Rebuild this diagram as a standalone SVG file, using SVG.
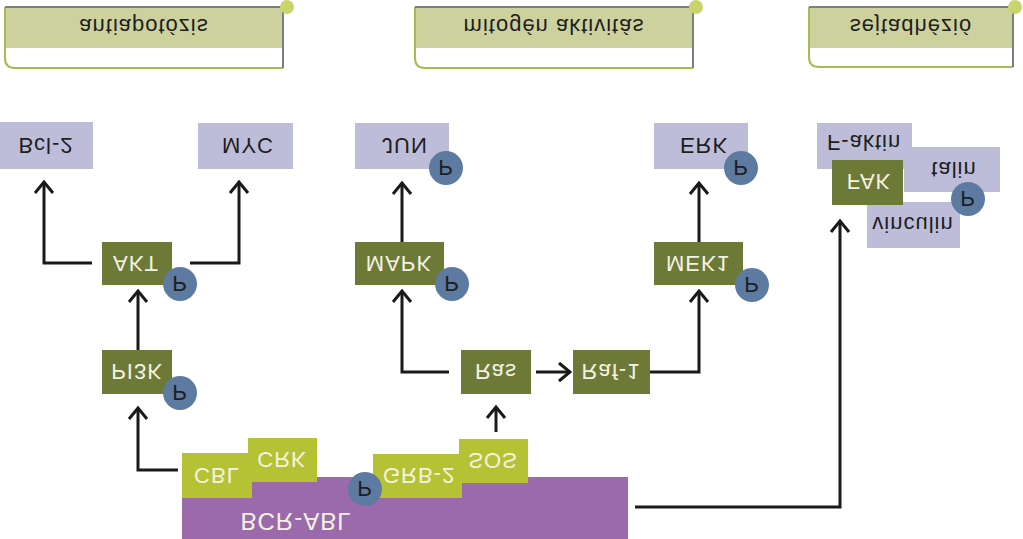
<svg xmlns="http://www.w3.org/2000/svg" width="1023" height="539" viewBox="0 0 1023 539">
<style>
text{font-family:"Liberation Sans",Arial,sans-serif;font-size:22px;letter-spacing:1px;text-anchor:middle}
.lt{fill:#bdbdd9}
.dk{fill:#6d7a37}
.yg{fill:#b4c233}
.pc{fill:#5d7ba0}
.tw{fill:#f4f2e2}
.tb{fill:#1e1e1e}
.hdfill{fill:#cdd19e}
.conn{fill:none;stroke:#1a1a1a;stroke-width:3}
</style>
<defs>
<marker id="arr" viewBox="-14 -12 16 24" markerWidth="16" markerHeight="24" refX="0" refY="0" orient="auto" markerUnits="userSpaceOnUse">
<path d="M-11,-9 L0,0 L-11,9" fill="none" stroke="#1a1a1a" stroke-width="3"/>
</marker>
</defs>
<rect width="1023" height="539" fill="#fff"/>

<g id="header1">
<rect x="5" y="7" width="278" height="41" class="hdfill"/>
<path d="M5,7 V58 Q5,68 15,68 H283" fill="none" stroke="#a7bb50" stroke-width="2"/>
<path d="M5,7 H283 V68" fill="none" stroke="#7d7d85" stroke-width="2"/>
<circle cx="287" cy="7" r="7" fill="#c9d46b"/>
<g transform="translate(144,27) scale(1,-1)"><text y="8" class="tb">antiapotózis</text></g>
</g>
<g id="header2">
<rect x="415" y="7" width="278" height="41" class="hdfill"/>
<path d="M415,7 V58 Q415,68 425,68 H693" fill="none" stroke="#a7bb50" stroke-width="2"/>
<path d="M415,7 H693 V68" fill="none" stroke="#7d7d85" stroke-width="2"/>
<circle cx="696" cy="7" r="7" fill="#c9d46b"/>
<g transform="translate(554,27) scale(1,-1)"><text y="8" class="tb">mitogén aktivitás</text></g>
</g>
<g id="header3">
<rect x="809" y="7" width="204" height="41" class="hdfill"/>
<path d="M809,7 V57 Q809,67 819,67 H1013" fill="none" stroke="#a7bb50" stroke-width="2"/>
<path d="M809,7 H1013 V67" fill="none" stroke="#7d7d85" stroke-width="2"/>
<circle cx="1015" cy="7" r="7" fill="#c9d46b"/>
<g transform="translate(911,27) scale(1,-1)"><text y="8" class="tb">sejtadhézió</text></g>
</g>

<g id="connectors">
<path class="conn" marker-end="url(#arr)" d="M92,263 H44 V182"/>
<path class="conn" marker-end="url(#arr)" d="M190,263 H239 V182"/>
<path class="conn" marker-end="url(#arr)" d="M138,350 V291"/>
<path class="conn" marker-end="url(#arr)" d="M178,470 H138 V408"/>
<path class="conn" marker-end="url(#arr)" d="M402,242 V183"/>
<path class="conn" marker-end="url(#arr)" d="M449,372 H402 V291"/>
<path class="conn" marker-end="url(#arr)" d="M536,372 H570"/>
<path class="conn" marker-end="url(#arr)" d="M496,432 V407"/>
<path class="conn" marker-end="url(#arr)" d="M650,372 H699 V291"/>
<path class="conn" marker-end="url(#arr)" d="M699,242 V183"/>
<path class="conn" marker-end="url(#arr)" d="M635,507 H840 V221"/>
</g>

<g id="bcl2"><rect x="0" y="122" width="93" height="47" class="lt"/><g transform="translate(46,146) scale(1,-1)"><text y="8" class="tb">Bcl-2</text></g></g>
<g id="myc"><rect x="198" y="123" width="95" height="46" class="lt"/><g transform="translate(248,146) scale(1,-1)"><text y="8" class="tb">MYC</text></g></g>
<g id="jun"><rect x="355" y="123" width="94" height="46" class="lt"/><g transform="translate(405,146) scale(1,-1)"><text y="8" class="tb">JUN</text></g><circle cx="446" cy="168" r="17" class="pc"/><g transform="translate(446,168) scale(1,-1)"><text y="8" class="tb">P</text></g></g>
<g id="erk"><rect x="654" y="123" width="94" height="46" class="lt"/><g transform="translate(704,146) scale(1,-1)"><text y="8" class="tb">ERK</text></g><circle cx="741" cy="168" r="17" class="pc"/><g transform="translate(741,168) scale(1,-1)"><text y="8" class="tb">P</text></g></g>

<g id="akt"><rect x="102" y="242" width="70" height="43" class="dk"/><g transform="translate(136,264) scale(1,-1)"><text y="8" class="tw">AKT</text></g><circle cx="180" cy="284" r="17" class="pc"/><g transform="translate(180,284) scale(1,-1)"><text y="8" class="tb">P</text></g></g>
<g id="mapk"><rect x="355" y="242" width="89" height="43" class="dk"/><g transform="translate(399,264) scale(1,-1)"><text y="8" class="tw">MAPK</text></g><circle cx="452" cy="284" r="17" class="pc"/><g transform="translate(452,284) scale(1,-1)"><text y="8" class="tb">P</text></g></g>
<g id="mek1"><rect x="654" y="242" width="89" height="43" class="dk"/><g transform="translate(698,264) scale(1,-1)"><text y="8" class="tw">MEK1</text></g><circle cx="752" cy="285" r="17" class="pc"/><g transform="translate(752,285) scale(1,-1)"><text y="8" class="tb">P</text></g></g>
<g id="pi3k"><rect x="102" y="350" width="70" height="44" class="dk"/><g transform="translate(137,372) scale(1,-1)"><text y="8" class="tw">PI3K</text></g><circle cx="180" cy="393" r="17" class="pc"/><g transform="translate(180,393) scale(1,-1)"><text y="8" class="tb">P</text></g></g>
<g id="ras"><rect x="461" y="350" width="70" height="44" class="dk"/><g transform="translate(496,372) scale(1,-1)"><text y="8" class="tw">Ras</text></g></g>
<g id="raf1"><rect x="573" y="350" width="77" height="44" class="dk"/><g transform="translate(611,372) scale(1,-1)"><text y="8" class="tw">Raf-1</text></g></g>

<g id="bcrabl"><path d="M182,498 H252 V477 H628 V539 H182 Z" fill="#9a6aaa"/><g transform="translate(296,522) scale(1,-1)"><text y="9" class="tw" style="font-size:24px">BCR-ABL</text></g></g>
<g id="cbl"><rect x="182" y="453" width="70" height="45" class="yg"/><g transform="translate(217,476) scale(1,-1)"><text y="8" class="tw">CBL</text></g></g>
<g id="crk"><rect x="248" y="438" width="69" height="44" class="yg"/><g transform="translate(282,460) scale(1,-1)"><text y="8" class="tw">CRK</text></g></g>
<g id="grb2"><rect x="373" y="454" width="89" height="44" class="yg"/><g transform="translate(419,476) scale(1,-1)"><text y="8" class="tw">GRB-2</text></g></g>
<g id="sos"><rect x="459" y="439" width="69" height="44" class="yg"/><g transform="translate(493,461) scale(1,-1)"><text y="8" class="tw">SOS</text></g></g>
<g id="p-bcr"><circle cx="365" cy="489" r="17" class="pc"/><g transform="translate(365,489) scale(1,-1)"><text y="8" class="tb">P</text></g></g>

<g id="faktin"><rect x="817" y="123" width="95" height="46" class="lt"/><g transform="translate(864,143) scale(1,-1)"><text y="8" class="tb">F-aktin</text></g></g>
<g id="talin"><rect x="904" y="147" width="96" height="45" class="lt"/><g transform="translate(954,170) scale(1,-1)"><text y="8" class="tb">talin</text></g></g>
<g id="vinculin"><rect x="867" y="202" width="93" height="46" class="lt"/><g transform="translate(913,225) scale(1,-1)"><text y="8" class="tb">vinculin</text></g></g>
<g id="fak"><rect x="832" y="160" width="71" height="45" class="dk"/><g transform="translate(869,182) scale(1,-1)"><text y="8" class="tw">FAK</text></g></g>
<g id="p-fak"><circle cx="968" cy="199" r="17" class="pc"/><g transform="translate(968,199) scale(1,-1)"><text y="8" class="tb">P</text></g></g>
</svg>
